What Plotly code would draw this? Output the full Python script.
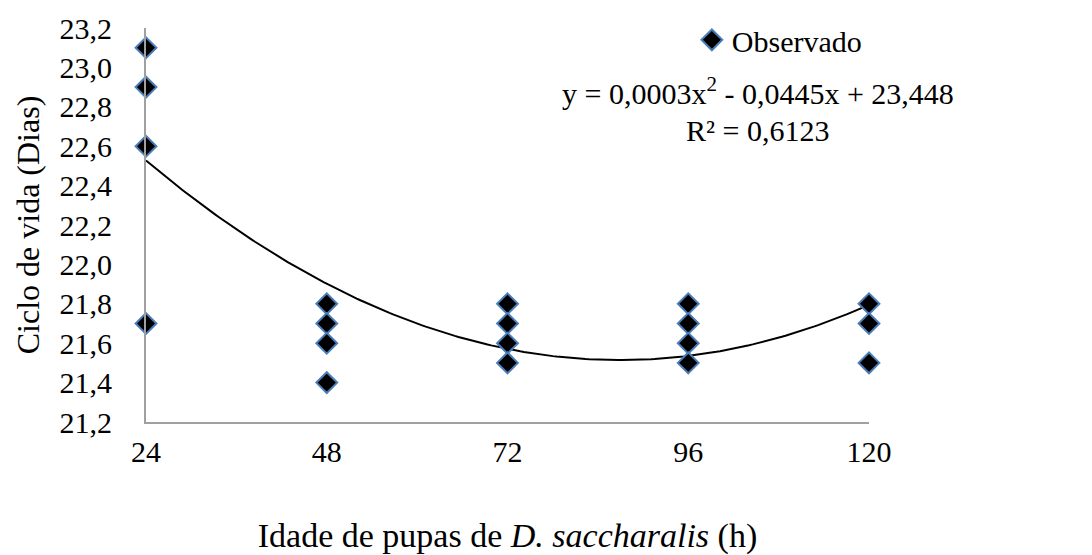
import numpy as np
import plotly.graph_objects as go

# Data
x_obs = [24, 24, 24, 24, 48, 48, 48, 48, 72, 72, 72, 72, 96, 96, 96, 96, 120, 120, 120]
y_obs = [23.1, 22.9, 22.6, 21.7, 21.8, 21.7, 21.6, 21.4, 21.8, 21.7, 21.6, 21.5,
         21.8, 21.7, 21.6, 21.5, 21.8, 21.7, 21.5]
x_ticks = [24, 48, 72, 96, 120]
# polynomial trend coefficients (a*x^2 + b*x + c), as drawn
trend_coef = [0.000256, -0.0445, 23.448]

xs = np.linspace(24, 120, 200)
ys = np.polyval(trend_coef, xs)

FONT = "Liberation Serif"

fig = go.Figure()
fig.add_trace(go.Scatter(
    x=xs, y=ys, mode="lines", line=dict(color="black", width=2),
    showlegend=False, hoverinfo="skip", cliponaxis=False))
fig.add_trace(go.Scatter(
    x=x_obs, y=y_obs, mode="markers", name="Observado", cliponaxis=False,
    marker=dict(symbol="diamond", size=16, color="black",
                line=dict(color="#4a7ebb", width=2))))

fig.update_layout(
    width=1092, height=555,
    margin=dict(l=146, r=223, t=28, b=133),
    paper_bgcolor="white", plot_bgcolor="white",
    separators=",.",
    font=dict(family=FONT, size=30, color="black"),
    legend=dict(x=0.755, y=0.97, xanchor="left", yanchor="middle",
                bgcolor="rgba(0,0,0,0)", font=dict(size=30),
                itemwidth=30, tracegroupgap=0),
    xaxis=dict(range=[24, 120], tickvals=x_ticks, ticktext=[str(v) for v in x_ticks],
               showgrid=False, zeroline=False, showline=True, automargin=False,
               linecolor="#a0a0a0", linewidth=2, ticks="",
               ticklabelstandoff=2, tickfont=dict(size=30),
               title=dict(text="Idade de pupas de <i>D. saccharalis</i> (h)",
                          standoff=60, font=dict(size=34))),
    yaxis=dict(range=[21.2, 23.2], dtick=0.2, tickformat=".1f",
               showgrid=False, zeroline=False, showline=True, automargin=False,
               linecolor="#a0a0a0", linewidth=2, ticks="",
               ticklabelstandoff=26, tickfont=dict(size=30),
               title=dict(text="Ciclo de vida (Dias)", standoff=10, font=dict(size=32))),
    annotations=[
        dict(x=0.846, y=0.84, xref="paper", yref="paper", showarrow=False,
             xanchor="center", yanchor="middle",
             text="y = 0,0003x<sup>2</sup> - 0,0445x + 23,448", font=dict(size=30)),
        dict(x=0.846, y=0.74, xref="paper", yref="paper", showarrow=False,
             xanchor="center", yanchor="middle",
             text="R² = 0,6123", font=dict(size=30)),
    ],
)

fig.write_html("out.html")
